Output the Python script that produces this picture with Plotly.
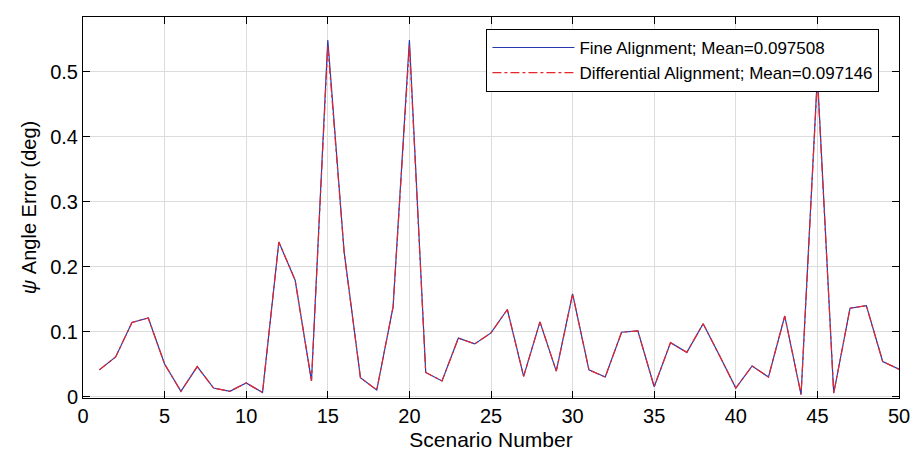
import plotly.graph_objects as go

scenario = list(range(1, 51))
fine = [0.041, 0.061, 0.114, 0.121, 0.050, 0.008, 0.046, 0.013, 0.008, 0.021,
        0.006, 0.238, 0.179, 0.024, 0.549, 0.223, 0.029, 0.010, 0.138, 0.549,
        0.037, 0.024, 0.090, 0.081, 0.098, 0.134, 0.031, 0.115, 0.039, 0.158,
        0.041, 0.030, 0.099, 0.101, 0.015, 0.083, 0.068, 0.112, 0.063, 0.013,
        0.047, 0.030, 0.124, 0.003, 0.495, 0.005, 0.136, 0.140, 0.054, 0.042]
differential = [0.041, 0.061, 0.114, 0.121, 0.050, 0.008, 0.046, 0.013, 0.008, 0.021,
                0.006, 0.238, 0.179, 0.024, 0.541, 0.222, 0.029, 0.010, 0.138, 0.541,
                0.037, 0.024, 0.090, 0.081, 0.098, 0.134, 0.031, 0.115, 0.039, 0.158,
                0.041, 0.030, 0.099, 0.101, 0.015, 0.083, 0.068, 0.112, 0.063, 0.013,
                0.047, 0.030, 0.124, 0.003, 0.490, 0.005, 0.136, 0.140, 0.054, 0.042]
fine_label = "Fine Alignment; Mean=0.097508"
diff_label = "Differential Alignment; Mean=0.097146"
x_ticks = [0, 5, 10, 15, 20, 25, 30, 35, 40, 45, 50]
y_ticks = [0, 0.1, 0.2, 0.3, 0.4, 0.5]
y_tick_text = ["0", "0.1", "0.2", "0.3", "0.4", "0.5"]

FONT = "Arial, Liberation Sans, sans-serif"

fig = go.Figure()
fig.add_trace(go.Scatter(x=scenario, y=fine, mode="lines", name=fine_label,
                         line=dict(color="#2838B0", width=1.2)))
fig.add_trace(go.Scatter(x=scenario, y=differential, mode="lines", name=diff_label,
                         line=dict(color="#E5262A", width=1.2, dash="dashdot")))

axis_common = dict(showline=True, linecolor="black", linewidth=1, mirror="ticks",
                   ticks="inside", ticklen=7, tickcolor="black",
                   showgrid=True, gridcolor="#dcdcdc", gridwidth=1,
                   zeroline=False, tickfont=dict(size=20, color="black", family=FONT))

fig.update_xaxes(range=[0, 50], tickvals=x_ticks,
                 title=dict(text="Scenario Number", font=dict(size=21, color="black", family=FONT),
                            standoff=6),
                 **axis_common)
fig.update_yaxes(range=[-0.0023, 0.5845], tickvals=y_ticks, ticktext=y_tick_text,
                 title=dict(text="<i>ψ</i> Angle Error (deg)",
                            font=dict(size=20, color="black", family=FONT), standoff=8),
                 **axis_common)

fig.update_layout(
    width=922, height=460,
    margin=dict(l=83, r=15, t=17, b=60),
    paper_bgcolor="white", plot_bgcolor="white",
    font=dict(family=FONT, color="black"),
    legend=dict(x=0.976, y=0.9687, xanchor="right", yanchor="top",
                bgcolor="white", bordercolor="black", borderwidth=1,
                font=dict(size=17, color="black", family=FONT),
                tracegroupgap=0, itemwidth=82),
)

fig.write_html("out.html")
